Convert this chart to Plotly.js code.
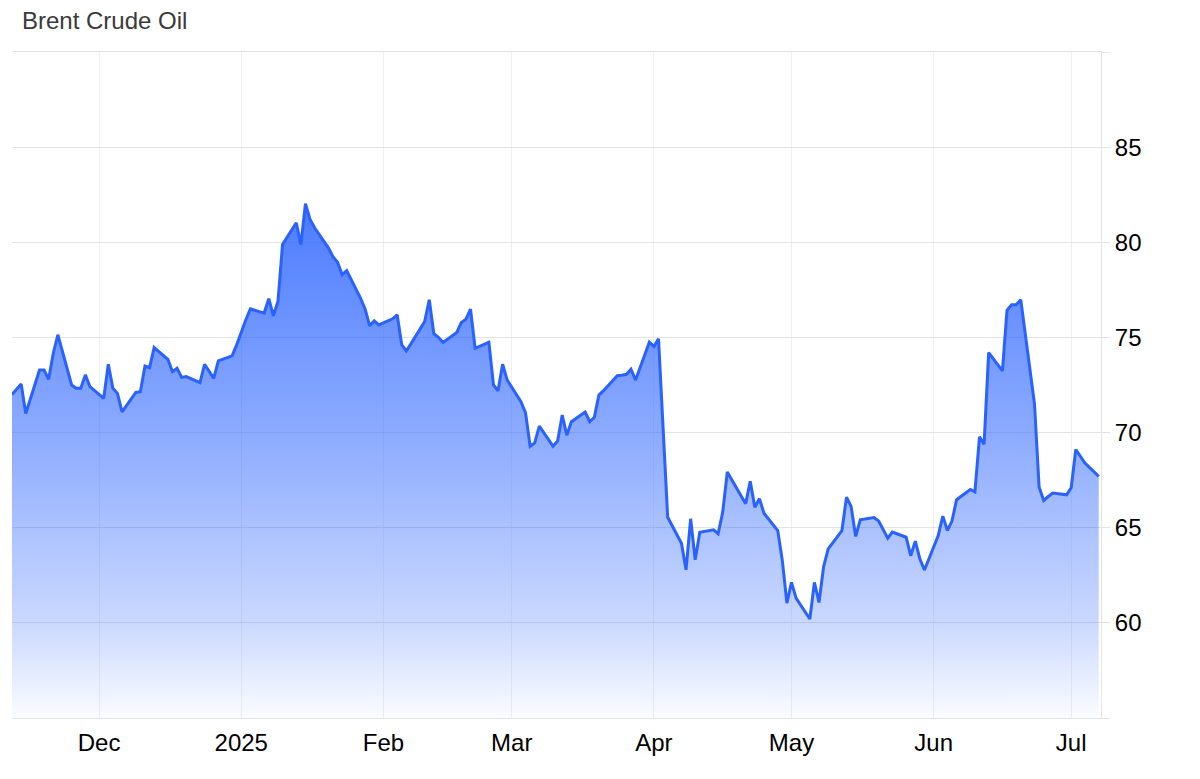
<!DOCTYPE html>
<html>
<head>
<meta charset="utf-8">
<title>Brent Crude Oil</title>
<script src="https://cdn.plot.ly/plotly-3.0.1.min.js"></script>
<style>
  html, body { margin: 0; padding: 0; background: #fff; }
  #chart { width: 1200px; height: 779px; }
</style>
</head>
<body>
<div id="chart"></div>
<script>
// trading days, Nov 12 2024 - Jul 7 2025 (Dec 25, Jan 1, Apr 18 closed)
var dates = [
    '2024-11-12','2024-11-13','2024-11-14','2024-11-15','2024-11-18','2024-11-19','2024-11-20','2024-11-21','2024-11-22','2024-11-25','2024-11-26','2024-11-27','2024-11-28','2024-11-29',
    '2024-12-02','2024-12-03','2024-12-04','2024-12-05','2024-12-06','2024-12-09','2024-12-10','2024-12-11','2024-12-12','2024-12-13','2024-12-16','2024-12-17','2024-12-18','2024-12-19','2024-12-20','2024-12-23','2024-12-24','2024-12-26','2024-12-27','2024-12-30','2024-12-31',
    '2025-01-02','2025-01-03','2025-01-06','2025-01-07','2025-01-08','2025-01-09','2025-01-10','2025-01-13','2025-01-14','2025-01-15','2025-01-16','2025-01-17','2025-01-20','2025-01-21','2025-01-22','2025-01-23','2025-01-24','2025-01-27','2025-01-28','2025-01-29','2025-01-30','2025-01-31',
    '2025-02-03','2025-02-04','2025-02-05','2025-02-06','2025-02-07','2025-02-10','2025-02-11','2025-02-12','2025-02-13','2025-02-14','2025-02-17','2025-02-18','2025-02-19','2025-02-20','2025-02-21','2025-02-24','2025-02-25','2025-02-26','2025-02-27','2025-02-28',
    '2025-03-03','2025-03-04','2025-03-05','2025-03-06','2025-03-07','2025-03-10','2025-03-11','2025-03-12','2025-03-13','2025-03-14','2025-03-17','2025-03-18','2025-03-19','2025-03-20','2025-03-21','2025-03-24','2025-03-25','2025-03-26','2025-03-27','2025-03-28','2025-03-31',
    '2025-04-01','2025-04-02','2025-04-03','2025-04-04','2025-04-07','2025-04-08','2025-04-09','2025-04-10','2025-04-11','2025-04-14','2025-04-15','2025-04-16','2025-04-17','2025-04-21','2025-04-22','2025-04-23','2025-04-24','2025-04-25','2025-04-28','2025-04-29','2025-04-30',
    '2025-05-01','2025-05-02','2025-05-05','2025-05-06','2025-05-07','2025-05-08','2025-05-09','2025-05-12','2025-05-13','2025-05-14','2025-05-15','2025-05-16','2025-05-19','2025-05-20','2025-05-21','2025-05-22','2025-05-23','2025-05-26','2025-05-27','2025-05-28','2025-05-29','2025-05-30',
    '2025-06-02','2025-06-03','2025-06-04','2025-06-05','2025-06-06','2025-06-09','2025-06-10','2025-06-11','2025-06-12','2025-06-13','2025-06-16','2025-06-17','2025-06-18','2025-06-19','2025-06-20','2025-06-23','2025-06-24','2025-06-25','2025-06-26','2025-06-27','2025-06-30',
    '2025-07-01','2025-07-02','2025-07-03','2025-07-04','2025-07-07'
]

// closing price, USD per barrel (same order as dates)
var prices = [
    72.00, 72.30, 72.55, 71.00, 73.29, 73.29, 72.80, 74.17, 75.14, 72.50, 72.33, 72.33, 73.03, 72.41,
    71.80, 73.59, 72.33, 72.06, 71.09, 72.11, 72.15, 73.50, 73.41, 74.47, 73.85, 73.20, 73.38, 72.90, 72.94, 72.62, 73.59, 72.85, 73.77, 74.03, 74.61,
    75.93, 76.50, 76.28, 77.04, 76.14, 76.89, 79.88, 81.03, 79.88, 82.03, 81.20, 80.76, 79.71, 79.24, 78.95, 78.30, 78.51, 77.07, 76.50, 75.61, 75.87, 75.66,
    75.98, 76.19, 74.61, 74.29, 74.66, 75.84, 76.98, 75.19, 75.01, 74.73, 75.26, 75.79, 75.96, 76.49, 74.43, 74.75, 72.50, 72.20, 73.59, 72.76,
    71.62, 71.04, 69.28, 69.46, 70.34, 69.28, 69.56, 70.92, 69.86, 70.57, 71.08, 70.57, 70.80, 71.97, 72.20, 72.99, 73.01, 73.06, 73.33, 72.76, 74.75,
    74.52, 74.93, 70.20, 65.55, 64.18, 62.79, 65.47, 63.31, 64.76, 64.89, 64.68, 65.82, 67.93, 66.26, 67.44, 66.08, 66.52, 65.76, 64.85, 63.27, 61.04,
    62.13, 61.30, 60.20, 62.13, 61.07, 62.95, 63.89, 64.85, 66.61, 66.12, 64.54, 65.42, 65.53, 65.35, 64.89, 64.45, 64.77, 64.50, 63.53, 64.29, 63.36, 62.78,
    64.59, 65.61, 64.85, 65.35, 66.47, 67.01, 66.88, 69.78, 69.39, 74.20, 73.24, 76.42, 76.72, 76.72, 76.98, 71.50, 67.14, 66.43, 66.64, 66.82, 66.73,
    67.10, 69.11, 68.76, 68.40, 67.70
]

var monthTicks = ['2024-12-01', '2025-01-01', '2025-02-01', '2025-03-01', '2025-04-01', '2025-05-01', '2025-06-01', '2025-07-01']
var monthLabels = ['Dec', '2025', 'Feb', 'Mar', 'Apr', 'May', 'Jun', 'Jul']

var priceTicks = [55, 60, 65, 70, 75, 80, 85, 90]
var priceLabels = ['', '60', '65', '70', '75', '80', '85', '']

var blue = '#2962ff'
var font = 'Liberation Sans, Arial, Helvetica, sans-serif'

var brent = {
    x: dates,
    y: prices,
    type: 'scatter',
    mode: 'lines',
    name: 'Brent',
    line: { color: blue, width: 3 },
    fill: 'tozeroy',
    fillgradient: {
        type: 'vertical',
        start: 55,
        stop: 82,
        colorscale: [
            [0, 'rgba(41,98,255,0.02)'],
            [0.19, 'rgba(41,98,255,0.25)'],
            [0.56, 'rgba(41,98,255,0.54)'],
            [1, 'rgba(41,98,255,0.84)']
        ]
    },
    hoverinfo: 'x+y'
}

var layout = {
    width: 1200,
    height: 779,
    margin: { l: 12, r: 99, t: 52, b: 61 },
    paper_bgcolor: '#ffffff',
    plot_bgcolor: '#ffffff',
    showlegend: false,
    font: { family: font, size: 24, color: '#000000' },
    title: {
        text: 'Brent Crude Oil',
        xref: 'container',
        yref: 'container',
        x: 22 / 1200,
        xanchor: 'left',
        y: 1 - 21 / 779,
        yanchor: 'middle',
        font: { family: font, size: 24, color: '#3a3a3a' }
    },
    xaxis: {
        type: 'date',
        range: ['2024-11-12', '2025-07-07 12:00'],
        tickmode: 'array',
        tickvals: monthTicks,
        ticktext: monthLabels,
        showgrid: true,
        gridcolor: '#edf1f7',
        gridwidth: 1,
        zeroline: false,
        showline: true,
        mirror: true,
        linecolor: '#e4e4e4',
        linewidth: 1,
        ticks: '',
        ticklabelstandoff: 3,
        tickfont: { family: font, size: 24, color: '#000000' },
        fixedrange: true
    },
    yaxis: {
        side: 'right',
        range: [55, 90],
        tickmode: 'array',
        tickvals: priceTicks,
        ticktext: priceLabels,
        showgrid: true,
        gridcolor: '#e4e4e4',
        gridwidth: 1,
        zeroline: false,
        showline: true,
        linecolor: '#e4e4e4',
        linewidth: 1,
        ticks: 'outside',
        ticklen: 8,
        tickcolor: '#e4e4e4',
        tickfont: { family: font, size: 24, color: '#000000' },
        fixedrange: true
    }
}

Plotly.newPlot('chart', [brent], layout, { displayModeBar: false, responsive: false })
</script>
</body>
</html>
